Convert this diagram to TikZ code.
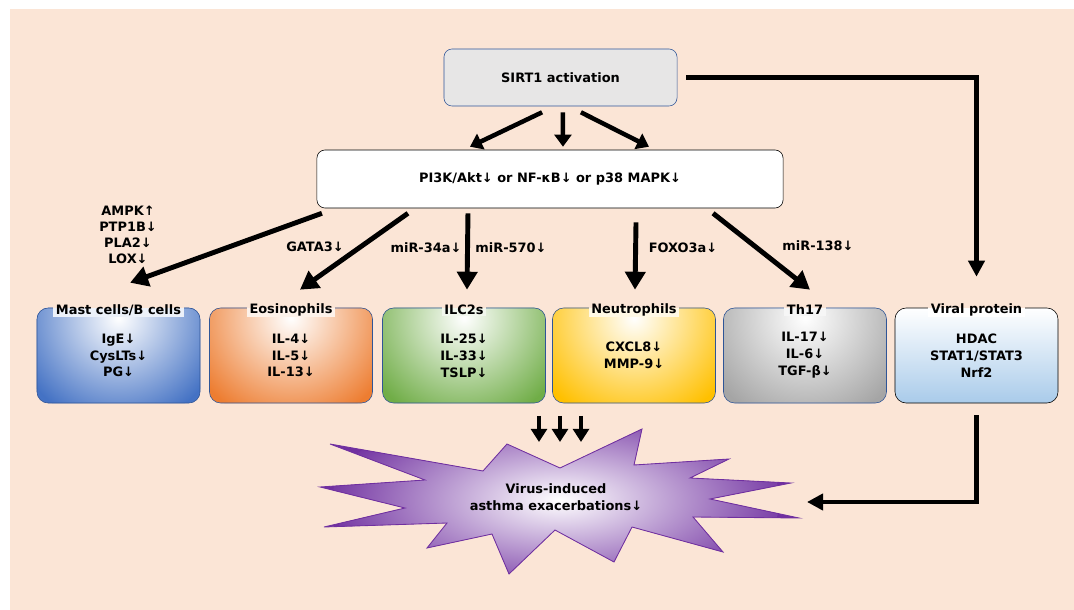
\documentclass[tikz,border=0pt]{standalone}
\usepackage{fontspec}
\setmainfont{DejaVu Sans}
\usetikzlibrary{arrows.meta}
\definecolor{peach}{HTML}{FBE5D6}
\definecolor{sirtgray}{HTML}{E7E6E6}
\definecolor{edgeblue}{HTML}{2F5597}
\definecolor{mastblue}{HTML}{4472C4}
\definecolor{eosorange}{HTML}{ED7D31}
\definecolor{ilcgreen}{HTML}{70AD47}
\definecolor{neugold}{HTML}{FFC000}
\definecolor{thgray}{HTML}{A5A5A5}
\definecolor{viralblue}{HTML}{A9CBEA}
\definecolor{burstpurple}{HTML}{7030A0}
\tikzset{
  txt/.style={font=\fontsize{9.2}{12}\selectfont\bfseries, align=center},
  lbl/.style={font=\fontsize{9.2}{11.3}\selectfont\bfseries, align=center, inner sep=1pt},
  topbox/.style={txt, draw=edgeblue, fill=sirtgray, rounded corners=0.2cm,
    minimum width=5.825cm, minimum height=1.425cm},
  midbox/.style={txt, draw=black, fill=white, rounded corners=0.2cm,
    minimum width=11.65cm, minimum height=1.45cm},
  cell/.style={txt, draw=edgeblue, fill=#1, rounded corners=0.28cm,
    minimum width=4.075cm, minimum height=2.375cm,
    path picture={\shade[inner color=white, outer color=#1]
      ([yshift=-0.25cm]path picture bounding box.north) circle (2.7cm);}},
  viralbox/.style={txt, draw=black, rounded corners=0.28cm,
    top color=white, bottom color=viralblue,
    minimum width=4.075cm, minimum height=2.375cm},
  title/.style={txt, inner xsep=2pt, inner ysep=1pt,
    path picture={
      \fill[peach] (path picture bounding box.north west) rectangle ([yshift=0.05cm]path picture bounding box.east);
      \fill[#1] ([yshift=0.05cm]path picture bounding box.west) rectangle (path picture bounding box.south east);}},
  fat/.style={line width=3.5pt, -{Triangle[width=0.5cm, length=0.45cm]}},
  mid/.style={line width=3.2pt, -{Triangle[width=0.42cm, length=0.3cm]}},
  conn/.style={line width=3pt, -{Triangle[width=0.4cm, length=0.4cm]}},
  tiny/.style={line width=2.8pt, -{Triangle[width=0.4cm, length=0.33cm]}}
}
\begin{document}
\begin{tikzpicture}[x=0.025cm, y=-0.025cm]
  \useasboundingbox (0,0) rectangle (1074,610);
  \fill[peach] (10,9) rectangle (1074,610);

  \node[topbox] (sirt) at (560.5,77.5) {SIRT1 activation};
  \node[midbox] (pik) at (550,179) {PI3K/Akt↓ or NF-κB↓ or p38 MAPK↓};

  \node[cell=mastblue] (mast) at (118.5,355.5) {IgE↓\\CysLTs↓\\PG↓};
  \node[cell=eosorange] (eos) at (291,355.5) {IL-4↓\\IL-5↓\\IL-13↓};
  \node[cell=ilcgreen] (ilc) at (464,355.5) {IL-25↓\\IL-33↓\\TSLP↓};
  \node[cell=neugold] (neu) at (634,355.5) {CXCL8↓\\MMP-9↓};
  \node[cell=thgray] (th) at (805,355.5) {IL-17↓\\IL-6↓\\TGF-β↓};
  \node[viralbox] (viral) at (976.5,355.5) {HDAC\\STAT1/STAT3\\Nrf2};

  \node[title=mastblue!10] (mastt) at ([yshift=-0.05cm]mast.north) {Mast cells/B cells};
  \node[title=eosorange!10] (eost) at ([yshift=-0.05cm]eos.north) {Eosinophils};
  \node[title=ilcgreen!10] (ilct) at ([yshift=-0.05cm]ilc.north) {ILC2s};
  \node[title=neugold!10] (neut) at ([yshift=-0.05cm]neu.north) {Neutrophils};
  \node[title=thgray!10] (tht) at ([yshift=-0.05cm]th.north) {Th17};
  \node[title=white] (viralt) at ([yshift=-0.05cm]viral.north) {Viral protein};

  \node[lbl] (mastin) at (128,235) {AMPK↑\\PTP1B↓\\PLA2↓\\LOX↓};
  \node[lbl] (eosin) at (315,247) {GATA3↓};
  \node[lbl] (ilcinl) at (426,248) {miR-34a↓};
  \node[lbl] (ilcinr) at (511,248) {miR-570↓};
  \node[lbl] (neuin) at (683,248) {FOXO3a↓};
  \node[lbl] (thin) at (818,246) {miR-138↓};

  \draw[burstpurple, line width=0.6pt, fill=burstpurple,
    path picture={\shade[inner color=white, outer color=burstpurple]
      (556,500) ellipse [x radius=5.6cm, y radius=2.5cm];}]
    (330,444) -- (483,471) -- (507,444) -- (560,468) -- (642,429) -- (634,465)
    -- (729,459) -- (690,478) -- (791,483) -- (710,499) -- (799,518) -- (693,517)
    -- (723,552) -- (632,527) -- (614,562) -- (555,530) -- (509,574) -- (492,534)
    -- (427,548) -- (447,523) -- (324,527) -- (405,508) -- (320,487) -- (425,480)
    -- cycle;
  \node[txt, font=\fontsize{9.2}{12.2}\selectfont\bfseries] (burst) at (556,497)
    {Virus-induced\\asthma exacerbations↓};
  \coordinate (burstin) at (807,502);

  \draw[mid] ([xshift=-0.46cm,yshift=-0.15cm]sirt.south) -- ([xshift=-2cm,yshift=0.075cm]pik.north);
  \draw[mid] ([xshift=0.06cm,yshift=-0.15cm]sirt.south) -- ([xshift=0.325cm,yshift=0.075cm]pik.north);
  \draw[mid] ([xshift=0.51cm,yshift=-0.15cm]sirt.south) -- ([xshift=2.475cm,yshift=0.075cm]pik.north);

  \draw[fat] ([xshift=-5.7cm,yshift=-0.125cm]pik.south) -- ([xshift=0.29cm,yshift=0.625cm]mast.north);
  \draw[fat] ([xshift=-3.55cm,yshift=-0.125cm]pik.south) -- ([xshift=0.225cm,yshift=0.45cm]eos.north);
  \draw[fat] ([xshift=-2.05cm,yshift=-0.125cm]pik.south) -- ([xshift=0.075cm,yshift=0.45cm]ilc.north);
  \draw[fat] ([xshift=2.15cm,yshift=-0.35cm]pik.south) -- ([xshift=0.025cm,yshift=0.45cm]neu.north);
  \draw[fat] ([xshift=4.075cm,yshift=-0.125cm]pik.south) -- ([xshift=0.125cm,yshift=0.45cm]th.north);

  \draw[conn] ([xshift=0.225cm]sirt.east) -| ([yshift=0.775cm]viral.north);
  \draw[conn] ([yshift=-0.3cm]viral.south) |- (burstin);

  \foreach \dx in {-0.425,0.1,0.625}
    \draw[tiny] ([shift={(\dx cm,2.025cm)}]burst.center) -- ([shift={(\dx cm,1.375cm)}]burst.center);
\end{tikzpicture}
\end{document}
